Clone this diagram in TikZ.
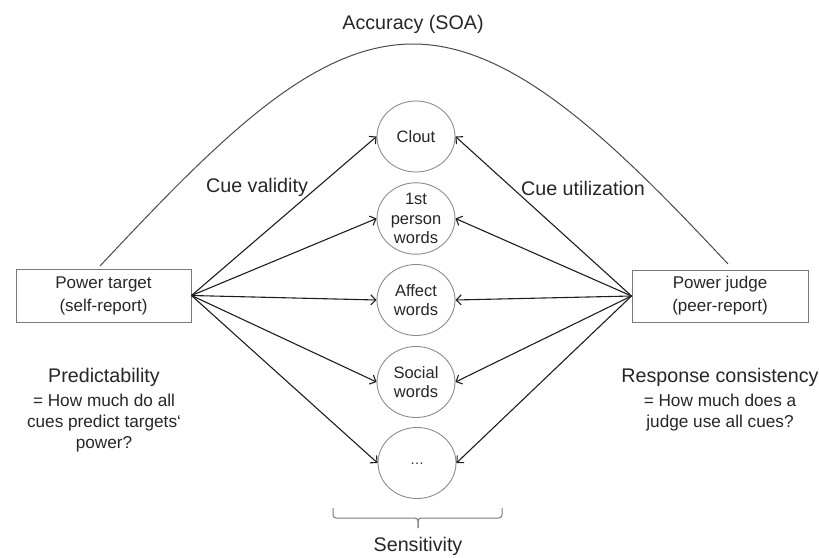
\documentclass[tikz,border=0pt]{standalone}
\usepackage{fontspec}
\setmainfont{Liberation Sans}
\usetikzlibrary{arrows.meta,shapes.geometric}
\definecolor{txt}{HTML}{262626}
\definecolor{boxline}{HTML}{7A7A7A}
\definecolor{ellline}{HTML}{8C8C8C}
\definecolor{arr}{HTML}{1E1E1E}
\definecolor{arcline}{HTML}{4A4A4A}
\tikzset{
  boxnode/.style={draw=boxline, line width=1pt, rectangle, inner sep=0pt, align=center, text=txt, font=\fontsize{17}{23}\selectfont},
  cuenode/.style={draw=ellline, line width=0.9pt, ellipse, minimum width=78pt, minimum height=71pt, inner sep=0pt, align=center, text=txt, font=\fontsize{16.5}{19.5}\selectfont},
  headtext/.style={text=txt, inner sep=0pt, font=\fontsize{19.7}{23}\selectfont},
  subtext/.style={text=txt, inner sep=0pt, align=center, font=\fontsize{17.2}{21}\selectfont},
  cuearrow/.style={draw=arr, line width=1.1pt, -{Straight Barb[length=5pt,width=10pt]}}
}
\begin{document}
\begin{tikzpicture}[x=1pt,y=-1pt]
\useasboundingbox (0,0) rectangle (819,557);
% boxes
\node[boxnode, minimum width=175pt, minimum height=53pt] (target) at (103.5,295.5) {Power target\\(self-report)};
\node[boxnode, minimum width=176pt, minimum height=52pt] (judge) at (720,296) {Power judge\\(peer-report)};
% cues
\node[cuenode] (clout) at (416,136.5) {Clout};
\node[cuenode] (first) at (416,218.5) {1st\\person\\words};
\node[cuenode] (affect) at (416,300) {Affect\\words};
\node[cuenode] (social) at (416,382) {Social\\words};
\node[cuenode] (more) at (417,463) {\raisebox{-3pt}{\fontsize{14}{14}\selectfont\dots}};
% arrows
\foreach \c in {clout,first,affect,social,more}{
  \draw[cuearrow] (target.east) -- (\c.west);
  \draw[cuearrow] (judge.west) -- (\c.east);
}
% accuracy arc
\coordinate (arcL) at (100,266);
\coordinate (arcTop) at (413,44);
\coordinate (arcR) at (728,264);
\draw[draw=arcline, line width=1pt] (arcL) .. controls (220,138) and (313,44) .. (arcTop) .. controls (513,44) and (613,141) .. (arcR);
% labels
\node[headtext] (acc) at (413,24) {Accuracy (SOA)};
\node[headtext] (valid) at (257,187) {Cue validity};
\node[headtext] (util) at (583,188) {Cue utilization};
\node[headtext] (pred) at (104,377) {Predictability};
\node[subtext] (predsub) at (104,423) {= How much do all\\cues predict targets‘\\power?};
\node[headtext] (resp) at (720,377) {Response consistency};
\node[subtext] (respsub) at (720,413) {= How much does a\\judge use all cues?};
% brace
\coordinate (bL) at (333,508);
\coordinate (bR) at (502,508);
\coordinate (bTip) at (418,528);
\draw[draw=boxline, line width=1pt, rounded corners=3pt] (bL) -- (333,518) -- (418,518) -- (bTip);
\draw[draw=boxline, line width=1pt, rounded corners=3pt] (bR) -- (502,518) -- (418,518) -- (bTip);
\node[headtext] (sens) at (418,546) {Sensitivity};
\end{tikzpicture}
\end{document}
